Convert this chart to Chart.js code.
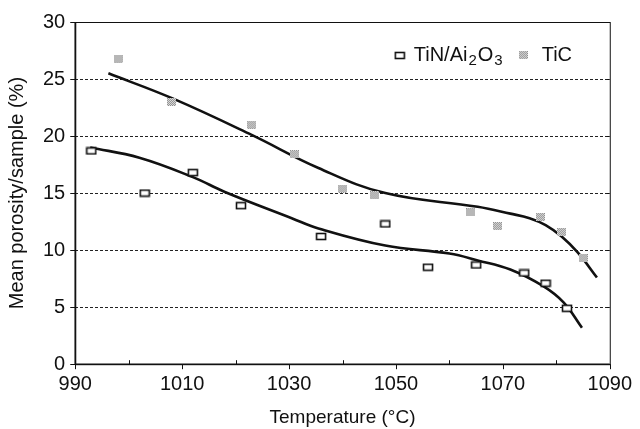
<!DOCTYPE html>
<html>
<head>
<meta charset="utf-8">
<script src="https://cdn.jsdelivr.net/npm/chart.js@4/dist/chart.umd.min.js"></script>
<style>
html,body{margin:0;padding:0;background:#fff;}
#wrap{width:640px;height:429px;}
</style>
</head>
<body>
<div id="wrap"><canvas id="c" width="640" height="429"></canvas></div>
<script>
// ---- data ----
const tinTemp = [993, 1003, 1012, 1021, 1036, 1048, 1056, 1065, 1074, 1078, 1082];
const tinPor  = [18.7, 15.0, 16.8, 13.9, 11.2, 12.3, 8.5, 8.7, 8.0, 7.1, 4.9];
const ticTemp = [998, 1008, 1023, 1031, 1040, 1046, 1064, 1069, 1077, 1081, 1085];
const ticPor  = [26.8, 23.0, 21.0, 18.4, 15.4, 14.8, 13.3, 12.1, 12.9, 11.6, 9.3];
// trend curves
const tinFitTemp = [992.8, 1002, 1012, 1018, 1030.5, 1035.5, 1048, 1060, 1065.3, 1071.4, 1077.7, 1081.4, 1084.8];
const tinFitPor  = [19.0, 18.1, 16.4, 15.1, 12.8, 11.9, 10.4, 9.7, 9.1, 8.3, 6.8, 5.4, 3.2];
const ticFitTemp = [996.2, 1008.2, 1023, 1035.5, 1048, 1065.3, 1071.4, 1075, 1078, 1081, 1084, 1087.6];
const ticFitPor  = [25.5, 23.3, 20.1, 17.2, 15.0, 13.8, 13.2, 12.8, 12.2, 11.2, 9.8, 7.6];
const xTicks = [990, 1010, 1030, 1050, 1070, 1090];
const seriesNames = ['TiN/Ai\u2082O\u2083', 'TiC'];
const xTitle = 'Temperature (\u00B0C)';
const yTitle = 'Mean porosity/sample (%)';

const FONT = 'Liberation Sans, Arial, Helvetica, sans-serif';
const pts = (xs, ys) => xs.map((x, i) => ({x: x, y: ys[i]}));

// marker images
function squareMarker() {
  const c = document.createElement('canvas');
  c.width = 12; c.height = 9;
  const g = c.getContext('2d');
  g.fillStyle = '#fff'; g.fillRect(1, 1, 10, 7);
  g.strokeStyle = '#111'; g.lineWidth = 1.6;
  g.strokeRect(1.5, 1.5, 9, 6);
  return c;
}
function speckleMarker() {
  const c = document.createElement('canvas');
  c.width = 9; c.height = 8;
  const g = c.getContext('2d');
  for (let y = 0; y < 8; y++) for (let x = 0; x < 9; x++) {
    g.fillStyle = ((x + y) % 2 === 0) ? '#8c8c8c' : '#e2e2e2';
    g.fillRect(x, y, 1, 1);
  }
  return c;
}
const sqImg = squareMarker();
const spImg = speckleMarker();

// frame, tick marks and legend
const frame = {
  id: 'frame',
  afterDraw(chart) {
    const {ctx, chartArea: a, scales} = chart;
    ctx.save();
    ctx.strokeStyle = '#111';
    ctx.lineWidth = 1;
    ctx.strokeRect(a.left + 0.5, a.top + 0.5, a.right - a.left, a.bottom - a.top);
    ctx.lineWidth = 1.6;
    ctx.beginPath();
    ctx.moveTo(a.left, a.top); ctx.lineTo(a.left, a.bottom); ctx.lineTo(a.right, a.bottom);
    ctx.stroke();
    ctx.lineWidth = 1;
    const xs = scales.x;
    for (let v = 990; v <= 1090; v += 10) {
      const px = Math.round(xs.getPixelForValue(v)) + 0.5;
      ctx.beginPath();
      if ((v - 990) % 20 === 0) { ctx.moveTo(px, a.bottom); ctx.lineTo(px, a.bottom + 5); }
      else { ctx.moveTo(px, a.bottom); ctx.lineTo(px, a.bottom - 4); }
      ctx.stroke();
    }
    const ys = scales.y;
    for (let v = 0; v <= 30; v += 5) {
      const py = Math.round(ys.getPixelForValue(v)) + 0.5;
      ctx.beginPath(); ctx.moveTo(a.left - 5, py); ctx.lineTo(a.left, py); ctx.stroke();
      ctx.beginPath(); ctx.moveTo(a.right, py); ctx.lineTo(a.right - 3, py); ctx.stroke();
    }
    // legend
    const ly = a.top + 33;
    let lx = a.right - 210;
    ctx.drawImage(sqImg, lx - 6, ly - 4);
    lx += 14;
    ctx.fillStyle = '#111';
    ctx.textBaseline = 'middle';
    ctx.textAlign = 'left';
    const big = '20px ' + FONT, small = '15px ' + FONT;
    const parts = [['TiN/Ai', big, 0], ['2', small, 6], ['O', big, 0], ['3', small, 6]];
    for (const [t, f, dy] of parts) {
      ctx.font = f;
      ctx.fillText(t, lx, ly + dy);
      lx += ctx.measureText(t).width + 1;
    }
    lx += 15;
    ctx.drawImage(spImg, lx, ly - 4);
    lx += 23;
    ctx.font = big;
    ctx.fillText(seriesNames[1], lx, ly);
    ctx.restore();
  }
};

new Chart(document.getElementById('c'), {
  type: 'scatter',
  data: {
    datasets: [
      {label: seriesNames[0], data: pts(tinTemp, tinPor), pointStyle: sqImg, pointRadius: 5, order: 1},
      {label: seriesNames[1], data: pts(ticTemp, ticPor), pointStyle: spImg, pointRadius: 5, order: 1},
      {label: 'fitTiN', type: 'line', data: pts(tinFitTemp, tinFitPor), showLine: true, borderColor: '#111',
       borderWidth: 2.6, pointRadius: 0, tension: 0.4, fill: false, order: 2},
      {label: 'fitTiC', type: 'line', data: pts(ticFitTemp, ticFitPor), showLine: true, borderColor: '#111',
       borderWidth: 2.6, pointRadius: 0, tension: 0.4, fill: false, order: 2}
    ]
  },
  options: {
    responsive: false,
    animation: false,
    devicePixelRatio: 1,
    layout: {padding: {left: 5, right: 7, top: 12, bottom: 0}},
    plugins: {
      tooltip: {enabled: false},
      legend: {display: false}
    },
    scales: {
      x: {
        type: 'linear', min: 990, max: 1090,
        afterBuildTicks: (scale) => { scale.ticks = xTicks.map(v => ({value: v})); },
        ticks: {color: '#111', maxRotation: 0, padding: 8, autoSkip: false,
          callback: (v) => String(v),
          font: {family: FONT, size: 20}},
        grid: {display: false, drawTicks: false},
        border: {display: false},
        title: {display: true, text: xTitle, color: '#111', padding: {top: 2, bottom: 0},
          font: {family: FONT, size: 19}}
      },
      y: {
        min: 0, max: 30,
        ticks: {stepSize: 5, color: '#111', padding: 10,
          callback: (v) => String(v),
          font: {family: FONT, size: 20}},
        grid: {
          drawTicks: false,
          color: (ctx) => (ctx.tick && ctx.tick.value > 0 && ctx.tick.value < 30) ? '#222' : 'rgba(0,0,0,0)',
          lineWidth: 1
        },
        border: {display: false, dash: [3, 2]},
        title: {display: true, text: yTitle, color: '#111', padding: {top: 0, bottom: 4},
          font: {family: FONT, size: 20}}
      }
    }
  },
  plugins: [frame]
});
</script>
</body>
</html>
